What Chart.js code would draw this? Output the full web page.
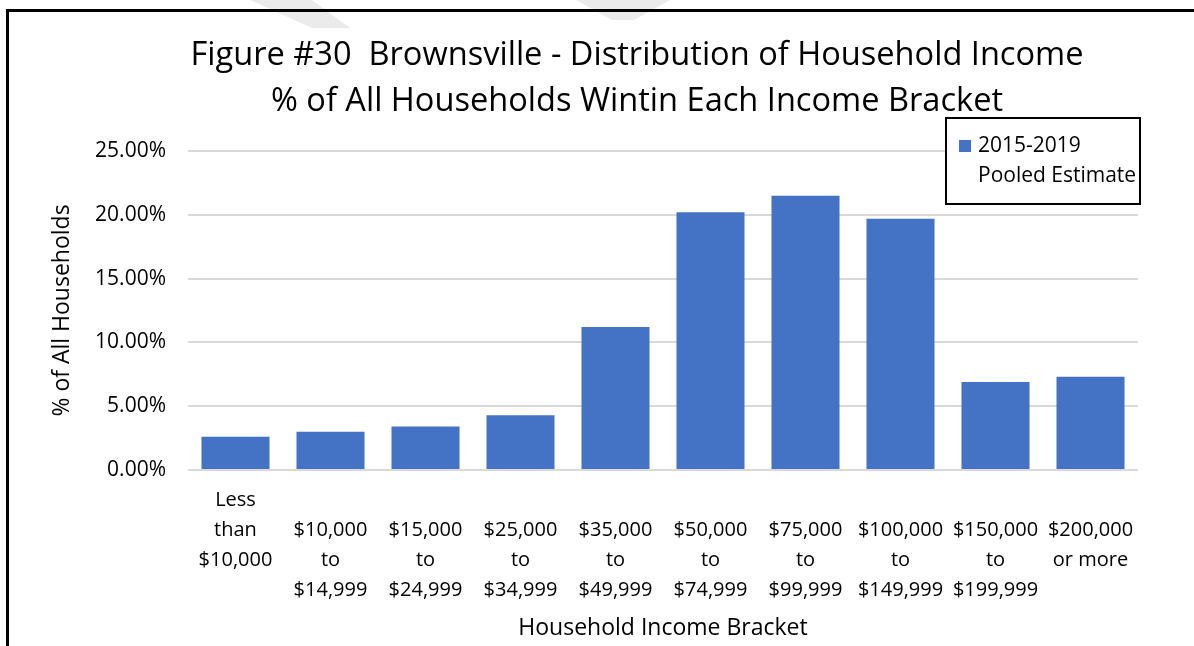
<!DOCTYPE html>
<html>
<head>
<meta charset="utf-8">
<title>Brownsville - Distribution of Household Income</title>
<script src="https://cdn.jsdelivr.net/npm/chart.js@4.4.1/dist/chart.umd.min.js"></script>
<style>
  body { margin: 0; background: #fff; }
  #wrap { position: relative; width: 1194px; height: 646px; overflow: hidden; }
  #myChart { position: absolute; left: 0; top: 0; }
  #frame {
    position: absolute; left: 6px; top: 9px; width: 1300px; height: 800px;
    border-left: 3px solid #000; border-top: 3px solid #000;
    pointer-events: none;
  }
  /* chart title, centred a bit right of the plot like the original */
  #title {
    position: absolute; left: 0; top: 30px; width: 1274px;
    text-align: center; color: #000;
    font-family: 'Open Sans', 'Noto Sans', sans-serif;
    font-size: 32.6px; line-height: 45.6px; white-space: pre;
  }
  /* faint bits of a watermark showing along the top edge */
  .wm { position: absolute; top: 0; height: 28px; background: #ebebeb; }
  #wm1 { left: 250px; width: 100px; clip-path: polygon(0 0, 62% 0, 100% 100%, 62% 100%); }
  #wm2 { left: 576px; width: 94px; height: 20px; clip-path: polygon(0 0, 100% 0, 62% 100%, 38% 100%); }
</style>
</head>
<body>
<div id="wrap">
  <div class="wm" id="wm1"></div>
  <div class="wm" id="wm2"></div>
  <canvas id="myChart" width="1194" height="646"></canvas>
  <div id="title"></div>
  <div id="frame"></div>
</div>
<script>
// income brackets, shown on 3-4 lines like the original
var brackets = [
    ["Less", "than", "$10,000"],
    ["", "$10,000", "to", "$14,999"],
    ["", "$15,000", "to", "$24,999"],
    ["", "$25,000", "to", "$34,999"],
    ["", "$35,000", "to", "$49,999"],
    ["", "$50,000", "to", "$74,999"],
    ["", "$75,000", "to", "$99,999"],
    ["", "$100,000", "to", "$149,999"],
    ["", "$150,000", "to", "$199,999"],
    ["", "$200,000", "or more"]
];
// % of all households
var shares = [2.6, 3.0, 3.4, 4.3, 11.2, 20.2, 21.5, 19.7, 6.9, 7.3];
var seriesName = ["2015-2019", "Pooled Estimate"];
var titleLines = [
    "Figure #30  Brownsville - Distribution of Household Income",
    "% of All Households Wintin Each Income Bracket"
];
var yMax = 25;
var yStep = 5;

var barBlue = "#4472C4";
var fontFam = "'Open Sans', 'Noto Sans', sans-serif";

document.getElementById("title").textContent = titleLines.join("\n");

// legend box sits on top of the plot, like the Excel one
const boxLegend = {
    id: "boxLegend",
    afterDraw(chart) {
        const ctx = chart.ctx;
        const area = chart.chartArea;
        const ds = chart.data.datasets[0];
        const x = area.right - 192, y = area.top - 33, w = 194, h = 86;
        ctx.save();
        ctx.fillStyle = "#fff";
        ctx.fillRect(x, y, w, h);
        ctx.strokeStyle = "#000";
        ctx.lineWidth = 2;
        ctx.strokeRect(x, y, w, h);
        ctx.fillStyle = ds.backgroundColor;
        ctx.fillRect(x + 13, y + 22, 12, 12);
        ctx.fillStyle = "#000";
        ctx.font = "21px " + fontFam;
        ctx.textBaseline = "middle";
        ctx.fillText(ds.label[0], x + 32, y + 28);
        ctx.fillText(ds.label[1], x + 32, y + 58);
        ctx.restore();
    }
};

const chart = new Chart("myChart", {
    type: "bar",
    data: {
        labels: brackets,
        datasets: [{
            label: seriesName,
            data: shares,
            backgroundColor: barBlue,
            barPercentage: 0.716,
            categoryPercentage: 1.0
        }]
    },
    options: {
        responsive: false,
        animation: false,
        // top padding leaves room for the html title
        layout: { padding: { left: 0, right: 56, top: 151, bottom: 0 } },
        plugins: {
            legend: { display: false },
            tooltip: { enabled: false },
            title: { display: false }
        },
        scales: {
            x: {
                grid: { display: false, drawTicks: false },
                border: { display: false },
                ticks: {
                    color: "#000",
                    padding: 15,
                    maxRotation: 0,
                    autoSkip: false,
                    font: { family: fontFam, size: 20, lineHeight: 1.5 }
                },
                title: {
                    display: true,
                    text: "Household Income Bracket",
                    color: "#000",
                    font: { family: fontFam, size: 23, lineHeight: 1.2 },
                    padding: { top: 4, bottom: 4 }
                },
                afterFit: s => { s.height = 176; }
            },
            y: {
                min: 0,
                max: yMax,
                grid: { color: "#d9d9d9", lineWidth: 2, drawTicks: false },
                border: { display: false },
                ticks: {
                    stepSize: yStep,
                    color: "#000",
                    padding: 22,
                    font: { family: fontFam, size: 21 },
                    callback: v => v.toFixed(2) + "%"
                },
                title: {
                    display: true,
                    text: "% of All Households",
                    color: "#000",
                    font: { family: fontFam, size: 23, lineHeight: 1.2 },
                    padding: { top: 49, bottom: 0 }
                },
                afterFit: s => { s.width = 188; }
            }
        }
    },
    plugins: [boxLegend]
});
</script>
</body>
</html>
